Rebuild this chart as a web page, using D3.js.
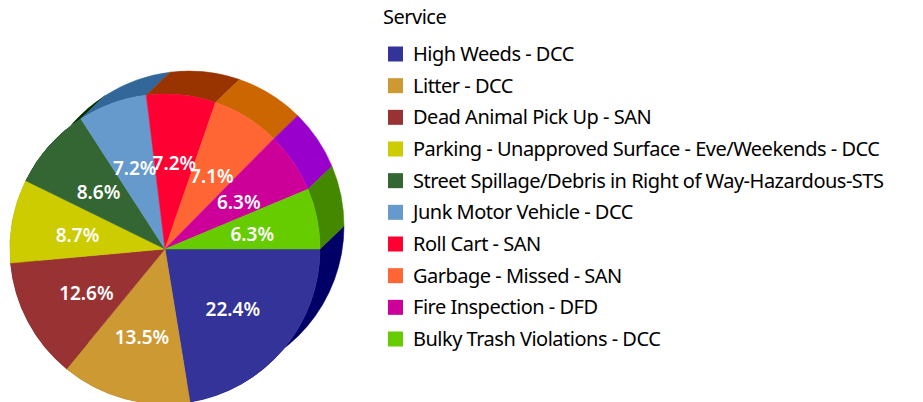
<!DOCTYPE html>
<html>
<head>
<meta charset="utf-8">
<script src="https://cdn.jsdelivr.net/npm/d3@7"></script>
<style>
  body { margin: 0; background: #fff; }
  text { font-family: "Noto Sans", sans-serif; }
</style>
</head>
<body>
<div id="chart"></div>
<script>
var services = [
  "High Weeds - DCC",
  "Litter - DCC",
  "Dead Animal Pick Up - SAN",
  "Parking - Unapproved Surface - Eve/Weekends - DCC",
  "Street Spillage/Debris in Right of Way-Hazardous-STS",
  "Junk Motor Vehicle - DCC",
  "Roll Cart - SAN",
  "Garbage - Missed - SAN",
  "Fire Inspection - DFD",
  "Bulky Trash Violations - DCC"
];
var shares = [22.4, 13.5, 12.6, 8.7, 8.6, 7.2, 7.2, 7.1, 6.3, 6.3];
var faceColors = ["#333399", "#CC9933", "#993333", "#CCCC00", "#336633",
                  "#6699CC", "#FF0033", "#FF6633", "#CC0099", "#66CC00"];
var sideColors = ["#000066", "#996600", "#660000", "#999900", "#003300",
                  "#336699", "#993300", "#CC6600", "#9900CC", "#448800"];

var width = 923, height = 402,
    cx = 165, cy = 249, r = 155,
    depth = {x: 24, y: -23};

var svg = d3.select("#chart").append("svg")
    .attr("width", width).attr("height", height);

var data = services.map(function(s, i) { return {name: s, value: shares[i]}; });

var pie = d3.pie()
    .value(function(d) { return d.value; })
    .sort(null)
    .startAngle(Math.PI / 2)
    .endAngle(Math.PI / 2 + 2 * Math.PI);

var arcs = pie(data);

var arc = d3.arc().innerRadius(0).outerRadius(r);

var g = svg.append("g").attr("transform", "translate(" + cx + "," + cy + ")");

// side walls: outer arc swept back along the depth vector
function wall(d) {
  var a0 = d.startAngle - Math.PI / 2,
      a1 = d.endAngle - Math.PI / 2,
      p = d3.path();
  p.moveTo(r * Math.cos(a0), r * Math.sin(a0));
  p.arc(0, 0, r, a0, a1, false);
  p.lineTo(depth.x + r * Math.cos(a1), depth.y + r * Math.sin(a1));
  p.arc(depth.x, depth.y, r, a1, a0, true);
  p.closePath();
  return p.toString();
}

g.selectAll("path.wall")
  .data(arcs)
  .enter().append("path")
    .attr("class", "wall")
    .attr("d", wall)
    .attr("fill", function(d, i) { return sideColors[i]; })
    .attr("stroke", function(d, i) { return sideColors[i]; })
    .attr("stroke-width", 0.5);

g.selectAll("path.face")
  .data(arcs)
  .enter().append("path")
    .attr("class", "face")
    .attr("d", arc)
    .attr("fill", function(d, i) { return faceColors[i]; })
    .attr("stroke", function(d, i) { return faceColors[i]; })
    .attr("stroke-width", 0.5);

var labelArc = d3.arc().innerRadius(89).outerRadius(89);

g.selectAll("text.pct")
  .data(arcs)
  .enter().append("text")
    .attr("class", "pct")
    .attr("transform", function(d) { return "translate(" + labelArc.centroid(d) + ")"; })
    .attr("text-anchor", "middle")
    .attr("dy", "0.5em")
    .attr("fill", "#fff")
    .attr("font-size", 19)
    .attr("font-weight", 600)
    .text(function(d) { return d.data.value.toFixed(1) + "%"; });

// legend
var legend = svg.append("g").attr("transform", "translate(383,0)");

legend.append("text")
    .attr("x", 0).attr("y", 24)
    .attr("font-size", 20)
    .attr("letter-spacing", -0.5)
    .attr("fill", "#000")
    .text("Service");

var rowY = d3.scaleLinear().domain([0, 9]).range([61, 346]);

var item = legend.selectAll("g.item")
  .data(data)
  .enter().append("g")
    .attr("class", "item")
    .attr("transform", function(d, i) { return "translate(0," + rowY(i) + ")"; });

item.append("rect")
    .attr("x", 5).attr("y", -14.5)
    .attr("width", 15).attr("height", 15)
    .attr("fill", function(d, i) { return faceColors[i]; });

item.append("text")
    .attr("x", 30).attr("y", 0)
    .attr("font-size", 20)
    .attr("letter-spacing", -0.5)
    .attr("fill", "#000")
    .text(function(d) { return d.name; });
</script>
</body>
</html>
